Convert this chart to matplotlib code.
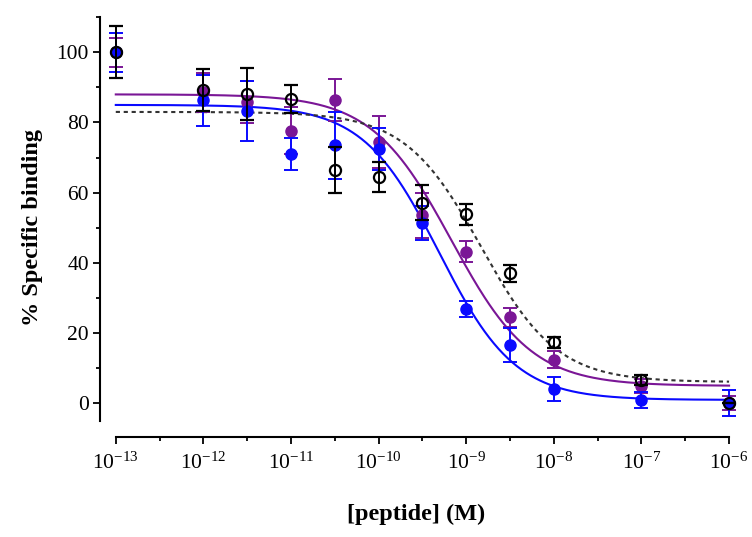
import numpy as np
import matplotlib
matplotlib.use("Agg")
import matplotlib.pyplot as plt
from matplotlib.ticker import FixedLocator, NullFormatter

plt.rcParams['font.family'] = ['Liberation Serif', 'DejaVu Serif']
plt.rcParams['mathtext.fontset'] = 'custom'
plt.rcParams['mathtext.rm'] = 'Liberation Serif'

# concentrations (M)
conc = [1e-13, 1e-12, 3.16e-12, 1e-11, 3.16e-11, 1e-10, 3.16e-10,
        1e-9, 3.16e-9, 1e-8, 1e-7, 1e-6]

# % specific binding, mean and error
black_y = [100, 89.2, 88.2, 86.8, 66.4, 64.5, 57.1, 53.8, 37.0, 17.3, 6.6, 0.0]
black_e = [7.4, 6.0, 7.4, 4.0, 6.5, 4.3, 5.0, 3.0, 2.5, 1.6, 1.5, 0.0]
purple_y = [100, 88.6, 85.8, 77.6, 86.4, 74.4, 53.6, 43.1, 24.4, 12.4, 4.9, 0.0]
purple_e = [4.1, 5.5, 6.0, 6.7, 5.9, 7.4, 6.4, 3.0, 2.6, 2.5, 2.0, 2.0]
blue_y = [100, 86.3, 83.3, 71.0, 73.5, 72.5, 51.3, 26.8, 16.5, 3.9, 0.8, 0.0]
blue_e = [5.6, 7.3, 8.5, 4.6, 9.5, 6.0, 4.8, 2.4, 4.8, 3.4, 2.3, 3.7]

# fitted curve parameters: top, bottom, logIC50, hill
black_fit = [83.0, 6.0, -8.83, 1.0]
purple_fit = [88.0, 4.9, -9.17, 0.95]
blue_fit = [85.0, 0.9, -9.31, 1.0]

col_blue = '#0a0aff'
col_purple = '#7a1696'


def logistic(logx, top, bottom, logic50, hill):
    return bottom + (top - bottom) / (1 + 10 ** ((logx - logic50) * hill))


fig = plt.figure(figsize=(7.52, 5.37), dpi=100)
ax = fig.add_axes([0.133, 0.186, 0.840, 0.782])

lx = np.linspace(-13, -6, 400)
xs = 10 ** lx
ax.plot(xs, logistic(lx, *purple_fit), color=col_purple, lw=1.5, zorder=2)
ax.plot(xs, logistic(lx, *blue_fit), color=col_blue, lw=1.5, zorder=2)
ax.plot(xs, logistic(lx, *black_fit), color='#333333', lw=1.5,
        ls=(0, (2.0, 1.8)), zorder=2)

eb = dict(fmt='o', ms=8, capsize=5, elinewidth=1.4, capthick=1.4, clip_on=False)
ax.errorbar(conc, purple_y, yerr=purple_e, color=col_purple, zorder=3, **eb)
ax.errorbar(conc, blue_y, yerr=blue_e, color=col_blue, zorder=4, **eb)
ax.errorbar(conc, black_y, yerr=black_e, color='black',
            mfc='none', mec='black', mew=1.6, zorder=5, **eb)

ax.set_xscale('log')
ax.set_xlim(10 ** -13.18, 10 ** -5.97)
ax.set_ylim(-9.7, 110)

for s in ['top', 'right']:
    ax.spines[s].set_visible(False)
for s in ['left', 'bottom']:
    ax.spines[s].set_linewidth(1.5)
ax.spines['left'].set_bounds(-5, 110)
ax.spines['bottom'].set_bounds(1e-13, 1e-6)

decades = list(range(-13, -5))
ax.xaxis.set_major_locator(FixedLocator([10.0 ** d for d in decades]))
ax.xaxis.set_minor_locator(FixedLocator([10.0 ** (d + 0.5) for d in decades[:-1]]))
ax.xaxis.set_minor_formatter(NullFormatter())
ax.set_xticklabels([r'$\mathregular{10^{%d}}$' % d for d in decades])

ax.set_yticks([0, 20, 40, 60, 80, 100])
ax.yaxis.set_minor_locator(FixedLocator([10, 30, 50, 70, 90, 110]))

ax.tick_params(which='major', direction='out', length=5, width=1.3,
               labelsize=15.5, pad=3)
ax.tick_params(which='minor', direction='out', length=3, width=1.3)
ax.tick_params(axis='x', which='major', pad=6)

ax.set_ylabel('% Specific binding', fontsize=17.5, fontweight='bold', labelpad=10)
ax.set_xlabel('[peptide] (M)', fontsize=17.5, fontweight='bold', labelpad=22)

fig.savefig('out.png', dpi=100)
